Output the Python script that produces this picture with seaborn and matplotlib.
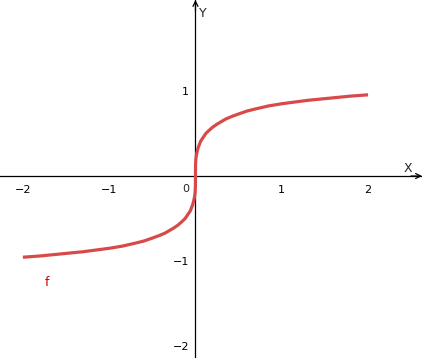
import matplotlib
matplotlib.use("Agg")
import matplotlib.pyplot as plt
import seaborn as sns
import pandas as pd

# values (right half; left half mirrors it)
x_right = [0.0, 0.0003, 0.001, 0.002, 0.004, 0.007, 0.01, 0.015, 0.02, 0.03,
           0.045, 0.06, 0.08, 0.1, 0.12, 0.15, 0.2, 0.25, 0.3, 0.35, 0.42,
           0.5, 0.6, 0.7, 0.85, 1.0, 1.15, 1.3, 1.45, 1.6, 1.8, 2.0]
y_right = [0.0, 0.08, 0.12, 0.15, 0.19, 0.215, 0.24, 0.265, 0.29, 0.33,
           0.37, 0.41, 0.44, 0.47, 0.50, 0.53, 0.575, 0.61, 0.64, 0.67, 0.70,
           0.73, 0.765, 0.79, 0.825, 0.85, 0.87, 0.89, 0.905, 0.92, 0.94, 0.955]

x_vals = [-v for v in x_right[:0:-1]] + x_right
y_vals = [-v for v in y_right[:0:-1]] + y_right

x_ticks = [-2, -1, 1, 2]
y_ticks = [-2, -1, 1]
x_labels = ["\u22122", "\u22121", "1", "2"]
y_labels = ["\u22122", "\u22121", "1"]

df = pd.DataFrame({"x": x_vals, "y": y_vals})

sns.set_style("white")
plt.rcParams["font.family"] = ["DejaVu Sans"]

fig = plt.figure(figsize=(4.22, 3.58), dpi=100)
ax = fig.add_axes([0, 0, 1, 1])

sns.lineplot(data=df, x="x", y="y", color="#d84a4a", linewidth=2.3,
             sort=False, estimator=None, ax=ax, zorder=3,
             solid_joinstyle="round", solid_capstyle="butt")

ax.set_xlim(-2.265, 2.625)
ax.set_ylim(-2.14, 2.07)

# axes through origin
for side in ["top", "right"]:
    ax.spines[side].set_visible(False)
ax.spines["left"].set_position(("data", 0))
ax.spines["bottom"].set_position(("data", 0))
for side in ["left", "bottom"]:
    ax.spines[side].set_color("black")
    ax.spines[side].set_linewidth(0.9)

ax.set_xticks(x_ticks)
ax.set_xticklabels(x_labels)
ax.set_yticks(y_ticks)
ax.set_yticklabels(y_labels)
ax.tick_params(axis="both", direction="out", length=2.5, width=0.9,
               colors="black", labelsize=8, pad=2)
ax.tick_params(axis="x", pad=4)
ax.set_xlabel("")
ax.set_ylabel("")

# arrow heads
ax.annotate("", xy=(1.0, 0), xycoords=("axes fraction", "data"),
            xytext=(-8, 0), textcoords="offset points",
            arrowprops=dict(arrowstyle="->", color="black", lw=0.9,
                            shrinkA=0, shrinkB=0, mutation_scale=9))
ax.annotate("", xy=(0, 1.0), xycoords=("data", "axes fraction"),
            xytext=(0, -8), textcoords="offset points",
            arrowprops=dict(arrowstyle="->", color="black", lw=0.9,
                            shrinkA=0, shrinkB=0, mutation_scale=9))

ax.text(-0.07, -0.09, "0", fontsize=8, ha="right", va="top")
ax.text(2.46, 0.09, "X", fontsize=9, ha="center", va="center")
ax.text(0.09, 1.91, "Y", fontsize=9, ha="center", va="center")
ax.text(-1.72, -1.25, "f", fontsize=9, color="#cc0000", ha="center", va="center")

fig.savefig("out.png", dpi=100)
